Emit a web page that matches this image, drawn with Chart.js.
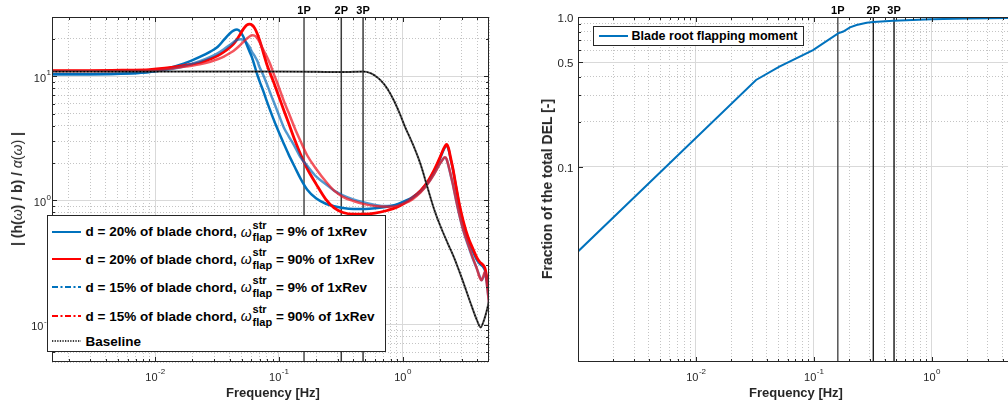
<!DOCTYPE html>
<html><head><meta charset="utf-8">
<script src="https://cdn.jsdelivr.net/npm/chart.js@4.4.1/dist/chart.umd.min.js"></script>
<style>
html,body{margin:0;padding:0;background:#fff;}
#wrap{position:relative;width:1008px;height:403px;overflow:hidden;font-family:"Liberation Sans",Arial,Helvetica,sans-serif;color:#000;background:#fff;}
#c1{position:absolute;left:0;top:0;}
#c2{position:absolute;left:530px;top:0;}
.ytitle{position:absolute;white-space:nowrap;font-weight:bold;font-size:14px;transform:translate(-50%,-50%) rotate(-90deg);color:#262626;}
.xtitle{position:absolute;white-space:nowrap;font-weight:bold;font-size:13px;transform:translate(-50%,-50%);color:#262626;}
.m{font-weight:normal;}
.legbox{position:absolute;border:1px solid #262626;background:#fff;box-sizing:border-box;}
.samp{position:absolute;}
.lrow{position:absolute;white-space:nowrap;font-weight:bold;font-size:13.5px;display:flex;align-items:center;transform:translateY(-50%);}
.om{font-style:italic;font-weight:normal;font-size:14px;margin-left:4px;}
.ss{display:inline-flex;flex-direction:column;font-size:11px;line-height:12.5px;margin-left:1px;margin-top:-1px;}
.ov{z-index:5;}
</style>
</head><body>
<div id="wrap">
<canvas id="c1" width="500" height="403"></canvas>
<canvas id="c2" width="500" height="403"></canvas>

<div class="ytitle" style="left:17px;top:189px;">| (h(<i class="m">ω</i>) / b) / <i class="m">α</i><span class="m">(</span><i class="m">ω</i><span class="m">)</span> |</div>
<div class="xtitle" style="left:273px;top:392px;">Frequency [Hz]</div>
<div class="ytitle" style="left:547px;top:189px;">Fraction of the total DEL [-]</div>
<div class="xtitle" style="left:796px;top:392px;">Frequency [Hz]</div>

<div class="legbox ov" style="left:47px;top:215px;width:339px;height:137px;"></div>
<svg class="samp ov" style="left:52px;top:227.7px" width="30" height="8"><line x1="0" y1="4" x2="29" y2="4" stroke="#0072BD" stroke-width="2"/></svg>
<svg class="samp ov" style="left:52px;top:255.3px" width="30" height="8"><line x1="0" y1="4" x2="29" y2="4" stroke="#FF0000" stroke-width="2"/></svg>
<svg class="samp ov" style="left:52px;top:283.3px" width="30" height="8"><line x1="0" y1="4" x2="29" y2="4" stroke="#0072BD" stroke-width="2" stroke-dasharray="6 2.5 2 2.5"/></svg>
<svg class="samp ov" style="left:52px;top:312px" width="30" height="8"><line x1="0" y1="4" x2="29" y2="4" stroke="#FF0000" stroke-width="2" stroke-dasharray="6 2.5 2 2.5"/></svg>
<svg class="samp ov" style="left:52px;top:337px" width="30" height="8"><line x1="0" y1="4" x2="29" y2="4" stroke="#000" stroke-width="1.3" stroke-dasharray="1.3 1.3"/></svg>
<div class="lrow ov" style="left:85.5px;top:231.7px;"><span>d = 20% of blade chord,</span><span class="om">ω</span><span class="ss"><span>str</span><span>flap</span></span><span>&nbsp;= 9% of 1xRev</span></div>
<div class="lrow ov" style="left:85.5px;top:259.3px;"><span>d = 20% of blade chord,</span><span class="om">ω</span><span class="ss"><span>str</span><span>flap</span></span><span>&nbsp;= 90% of 1xRev</span></div>
<div class="lrow ov" style="left:85.5px;top:287.3px;"><span>d = 15% of blade chord,</span><span class="om">ω</span><span class="ss"><span>str</span><span>flap</span></span><span>&nbsp;= 9% of 1xRev</span></div>
<div class="lrow ov" style="left:85.5px;top:316px;"><span>d = 15% of blade chord,</span><span class="om">ω</span><span class="ss"><span>str</span><span>flap</span></span><span>&nbsp;= 90% of 1xRev</span></div>
<div class="lrow ov" style="left:85.5px;top:341px;"><span>Baseline</span></div>

<div class="legbox ov" style="left:593px;top:26px;width:211px;height:20px;"></div>
<svg class="samp ov" style="left:599px;top:32px" width="30" height="8"><line x1="0" y1="4" x2="29" y2="4" stroke="#0072BD" stroke-width="2"/></svg>
<div class="lrow ov" style="left:631.5px;top:36px;font-size:12.5px;"><span>Blade root flapping moment</span></div>
</div>

<script>
// ---------------- DATA ----------------
// Left panel: frequency grid [Hz]
const freqL = [0.00147,0.003,0.006,0.009,0.012,0.017,0.023,0.028,0.032,0.036,0.04,0.043,0.046,0.049,0.052,0.055,0.058,0.061,0.064,0.067,0.07,0.075,0.08,0.085,0.09,0.1,0.11,0.12,0.135,0.15,0.17,0.2,0.24,0.28,0.33,0.4,0.5,0.6,0.75,0.9,1.05,1.2,1.4,1.6,1.8,2.0,2.1,2.2,2.27,2.35,2.45,2.55,2.7,2.9,3.1,3.4,3.7,4.0,4.2,4.35,4.5,4.65,4.8,5.0];
// d = 20%, w_flap = 9% of 1xRev
const blue20 = [10.4,10.4,10.5,10.8,11.4,12.6,14.3,15.8,17.2,19.6,22.0,23.3,23.8,22.8,20.6,18.0,15.8,14.0,12.0,10.3,9.1,7.6,6.3,5.35,4.6,3.55,2.85,2.35,1.85,1.5,1.22,1.04,0.94,0.9,0.87,0.855,0.855,0.865,0.89,0.93,0.99,1.06,1.2,1.4,1.72,2.15,2.42,2.68,2.78,2.6,2.15,1.8,1.3,0.88,0.66,0.48,0.39,0.33,0.31,0.3,0.29,0.272,0.23,0.17];
// d = 20%, w_flap = 90% of 1xRev
const red20 = [11.1,11.1,11.2,11.3,11.6,12.2,12.9,13.8,14.6,15.7,17.0,18.2,19.8,22.0,24.2,25.8,26.3,25.8,24.3,22.0,19.5,15.5,12.5,10.6,9.2,6.9,5.3,4.2,3.05,2.35,1.8,1.36,1.02,0.87,0.8,0.775,0.775,0.79,0.83,0.88,0.96,1.05,1.2,1.42,1.75,2.2,2.48,2.72,2.82,2.65,2.2,1.82,1.32,0.9,0.68,0.5,0.41,0.345,0.32,0.31,0.3,0.282,0.24,0.18];
// d = 15%, w_flap = 9% of 1xRev
const blue15 = [10.4,10.4,10.5,10.8,11.2,12.0,13.2,14.3,15.3,16.5,17.8,18.8,19.6,19.9,19.6,18.6,17.2,15.6,14.5,13.3,11.8,10.2,8.7,7.4,6.4,4.9,3.85,3.3,2.7,2.22,1.9,1.56,1.35,1.2,1.1,1.02,0.96,0.92,0.9,0.92,0.97,1.04,1.17,1.37,1.64,1.97,2.12,2.22,2.15,1.9,1.6,1.35,1.02,0.74,0.57,0.43,0.34,0.28,0.245,0.228,0.24,0.265,0.215,0.15];
// d = 15%, w_flap = 90% of 1xRev
const red15 = [11.0,11.0,11.1,11.2,11.4,11.9,12.5,13.1,13.7,14.4,15.3,16.0,16.9,17.9,19.0,20.0,20.9,21.4,21.2,20.2,18.8,16.3,14.4,12.6,10.8,8.2,6.3,5.1,3.8,3.0,2.3,1.8,1.42,1.2,1.07,0.99,0.93,0.9,0.89,0.9,0.95,1.02,1.16,1.36,1.63,1.97,2.12,2.23,2.16,1.92,1.62,1.36,1.03,0.75,0.58,0.44,0.345,0.28,0.24,0.228,0.245,0.268,0.215,0.15];
// Baseline
const baseFreq = [0.00147,0.01,0.05,0.1,0.2,0.3,0.4,0.48,0.55,0.6,0.664,0.75,0.85,0.95,1.05,1.2,1.4,1.6,1.8,2.0,2.3,2.6,3.0,3.5,4.0,4.28,4.5,4.8,5.0];
const baseVals = [10.9,10.9,10.9,10.9,10.85,10.8,10.85,10.9,10.6,10.1,9.3,8.0,6.4,5.0,3.9,2.9,1.95,1.25,0.85,0.64,0.46,0.35,0.24,0.155,0.108,0.095,0.105,0.13,0.155];
// Rotor harmonics
const harmFreq = [0.16, 0.32, 0.48];
const harmLabels = ['1P', '2P', '3P'];
// Right panel: cumulative fraction of DEL
const freqR = [0.001,0.0324,0.0511,0.0986,0.161,0.178,0.203,0.231,0.281,0.32,0.473,1.0,2.0,4.43,5.0];
const delFrac = [0.0273,0.38,0.466,0.602,0.778,0.8,0.853,0.884,0.916,0.926,0.945,0.965,0.978,0.985,0.986];
// Tick labels
const xDecades = [0.01, 0.1, 1];
const xDecadeExp = ['-2', '-1', '0'];
const yLeftDecades = [0.1, 1, 10];
const yLeftDecadeExp = ['-1', '0', '1'];
const yRightTicks = [0.1, 0.5, 1];
const yRightLabels = ['0.1', '0.5', '1.0'];
const yRightGrid = [0.1,0.2,0.3,0.4,0.5,0.6,0.7,0.8,0.9,1.0];

// ---------------- HELPERS ----------------
const FONT = '"Liberation Sans", Arial, Helvetica, sans-serif';
function logTicks(lo, hi) {
  const out = [];
  for (let e = Math.floor(Math.log10(lo)); e <= Math.ceil(Math.log10(hi)); e++) {
    for (let k = 1; k <= 9; k++) {
      const v = parseFloat((k * Math.pow(10, e)).toPrecision(6));
      if (v >= lo * 0.999 && v <= hi * 1.001) out.push(v);
    }
  }
  return out;
}
function inList(v, list) { return list.some(m => Math.abs(v - m) / m < 1e-6); }
function isDecade(v) { const l = Math.log10(v); return Math.abs(l - Math.round(l)) < 1e-6; }
function pts(xs, ys) { return xs.map((x, i) => ({x: x, y: ys[i]})); }
function vline(f, lo, hi) { return [{x: f, y: lo}, {x: f, y: hi}]; }

function drawPow(ctx, x, y, exp, align) {
  ctx.font = '11px ' + FONT;
  const w1 = ctx.measureText('10').width;
  ctx.font = '8px ' + FONT;
  const w2 = ctx.measureText(exp).width;
  const x0 = align === 'center' ? x - (w1 + w2) / 2 : x - (w1 + w2);
  ctx.textAlign = 'left';
  ctx.textBaseline = 'middle';
  ctx.fillStyle = '#262626';
  ctx.font = '11px ' + FONT;
  ctx.fillText('10', x0, y);
  ctx.font = '8px ' + FONT;
  ctx.fillText(exp, x0 + w1 + 0.5, y - 5.5);
}

function makeAxesPlugin(cfg) {
  return {
    id: 'matlabAxes' + cfg.name,
    afterDraw(chart) {
      const ctx = chart.ctx, a = chart.chartArea;
      const xs = chart.scales.x, ys = chart.scales.y;
      ctx.save();
      ctx.strokeStyle = '#262626';
      ctx.lineWidth = 1;
      ctx.beginPath();
      xs.ticks.forEach(t => {
        const px = Math.round(xs.getPixelForValue(t.value)) + 0.5;
        if (px < a.left + 1 || px > a.right - 1) return;
        const L = isDecade(t.value) ? 5 : 3;
        ctx.moveTo(px, a.bottom); ctx.lineTo(px, a.bottom - L);
        ctx.moveTo(px, a.top); ctx.lineTo(px, a.top + L);
      });
      ys.ticks.forEach(t => {
        const py = Math.round(ys.getPixelForValue(t.value)) + 0.5;
        if (py < a.top + 1 || py > a.bottom - 1) return;
        const L = inList(t.value, cfg.yMajor) ? 5 : 3;
        ctx.moveTo(a.left, py); ctx.lineTo(a.left + L, py);
        ctx.moveTo(a.right, py); ctx.lineTo(a.right - L, py);
      });
      ctx.stroke();
      ctx.strokeRect(Math.round(a.left) + 0.5, Math.round(a.top) + 0.5, Math.round(a.right - a.left) - 1, Math.round(a.bottom - a.top) - 1);
      cfg.xLab.forEach((v, i) => drawPow(ctx, xs.getPixelForValue(v), a.bottom + 15.5, cfg.xExp[i], 'center'));
      if (cfg.yPow) {
        cfg.yLab.forEach((v, i) => drawPow(ctx, a.left - 1.5, ys.getPixelForValue(v) + 2.5, cfg.yExp[i], 'right'));
      } else {
        ctx.font = '11.5px ' + FONT;
        ctx.fillStyle = '#262626';
        ctx.textAlign = 'right';
        ctx.textBaseline = 'middle';
        cfg.yLab.forEach((v, i) => ctx.fillText(cfg.yText[i], a.left - 4.5, ys.getPixelForValue(v) + 1.5));
      }
      ctx.font = 'bold 11px ' + FONT;
      ctx.fillStyle = '#000';
      ctx.textAlign = 'center';
      ctx.textBaseline = 'middle';
      harmFreq.forEach((f, i) => ctx.fillText(harmLabels[i], xs.getPixelForValue(f), 11));
      ctx.restore();
    }
  };
}

function scaleOpts(min, max, ticks, majorList, isX, fitSize) {
  return {
    type: 'logarithmic',
    min: min, max: max,
    afterBuildTicks: s => { s.ticks = ticks.map(v => ({value: v})); },
    afterFit: s => { if (isX) s.height = fitSize; else s.width = fitSize; },
    ticks: {display: false, autoSkip: false},
    grid: {
      drawTicks: false,
      lineWidth: 1,
      color: c => (c.tick && inList(c.tick.value, majorList)) ? '#d9d9d9' : '#c4c4c4'
    },
    border: {
      display: false,
      dash: c => (c.tick && inList(c.tick.value, majorList)) ? [] : [1, 2]
    }
  };
}

Chart.defaults.font.family = FONT;

// ---------------- LEFT CHART ----------------
const leftXTicks = logTicks(0.002, 5);
const leftYTicks = logTicks(0.05, 30);
const decAll = [0.001, 0.01, 0.1, 1, 10, 100];
const lineBase = {pointRadius: 0, fill: false, cubicInterpolationMode: 'monotone'};
new Chart(document.getElementById('c1'), {
  type: 'line',
  data: {
    datasets: [
      Object.assign({label: 'Baseline (dotted)', data: pts(baseFreq, baseVals), borderColor: '#000', borderWidth: 1.2, borderDash: [1.5, 2], order: 0}, lineBase),
      Object.assign({label: 'Baseline', data: pts(baseFreq, baseVals), borderColor: 'rgba(55,55,55,0.9)', borderWidth: 2, order: 1}, lineBase),
      Object.assign({label: 'd = 15%, 90%', data: pts(freqL, red15), borderColor: 'rgba(240,20,30,0.72)', borderWidth: 2.5, order: 2}, lineBase),
      Object.assign({label: 'd = 15%, 9%', data: pts(freqL, blue15), borderColor: 'rgba(0,105,185,0.68)', borderWidth: 2.5, order: 3}, lineBase),
      Object.assign({label: 'd = 20%, 90%', data: pts(freqL, red20), borderColor: '#FF0000', borderWidth: 2.8, order: 4}, lineBase),
      Object.assign({label: 'd = 20%, 9%', data: pts(freqL, blue20), borderColor: '#0072BD', borderWidth: 2.5, order: 5}, lineBase),
      {label: '1P', data: vline(harmFreq[0], 0.05, 30), borderColor: '#4a4a4a', borderWidth: 1.5, pointRadius: 0, order: 6},
      {label: '2P', data: vline(harmFreq[1], 0.05, 30), borderColor: '#3a3a3a', borderWidth: 1.5, pointRadius: 0, order: 6},
      {label: '3P', data: vline(harmFreq[2], 0.05, 30), borderColor: '#3a3a3a', borderWidth: 1.5, pointRadius: 0, order: 6}
    ]
  },
  options: {
    responsive: false, maintainAspectRatio: false, animation: false, devicePixelRatio: 1,
    layout: {padding: {left: 0, right: 11, top: 17, bottom: 0}},
    plugins: {legend: {display: false}, tooltip: {enabled: false}},
    scales: {
      x: scaleOpts(0.00147, 5, leftXTicks, decAll, true, 41),
      y: scaleOpts(0.05, 30, leftYTicks, decAll, false, 52)
    }
  },
  plugins: [makeAxesPlugin({name: 'L', yMajor: decAll, xLab: xDecades, xExp: xDecadeExp, yPow: true, yLab: yLeftDecades, yExp: yLeftDecadeExp})]
});

// ---------------- RIGHT CHART ----------------
const rightXTicks = logTicks(0.001, 5);
new Chart(document.getElementById('c2'), {
  type: 'line',
  data: {
    datasets: [
      {label: 'Blade root flapping moment', data: pts(freqR, delFrac), borderColor: '#0072BD', borderWidth: 2, pointRadius: 0, fill: false, tension: 0, order: 0},
      {label: '1P', data: vline(harmFreq[0], 0.005, 1), borderColor: '#555', borderWidth: 1.5, pointRadius: 0, order: 1},
      {label: '2P', data: vline(harmFreq[1], 0.005, 1), borderColor: '#111', borderWidth: 1.3, pointRadius: 0, order: 1},
      {label: '3P', data: vline(harmFreq[2], 0.005, 1), borderColor: '#000', borderWidth: 1.3, pointRadius: 0, order: 1}
    ]
  },
  options: {
    responsive: false, maintainAspectRatio: false, animation: false, devicePixelRatio: 1,
    layout: {padding: {left: 0, right: 16, top: 17, bottom: 0}},
    plugins: {legend: {display: false}, tooltip: {enabled: false}},
    scales: {
      x: scaleOpts(0.001, 5, rightXTicks, decAll, true, 41),
      y: scaleOpts(0.005, 1, yRightGrid, yRightTicks, false, 48)
    }
  },
  plugins: [makeAxesPlugin({name: 'R', yMajor: yRightTicks, xLab: xDecades, xExp: xDecadeExp, yPow: false, yLab: yRightTicks, yText: yRightLabels})]
});
</script>
</body></html>
